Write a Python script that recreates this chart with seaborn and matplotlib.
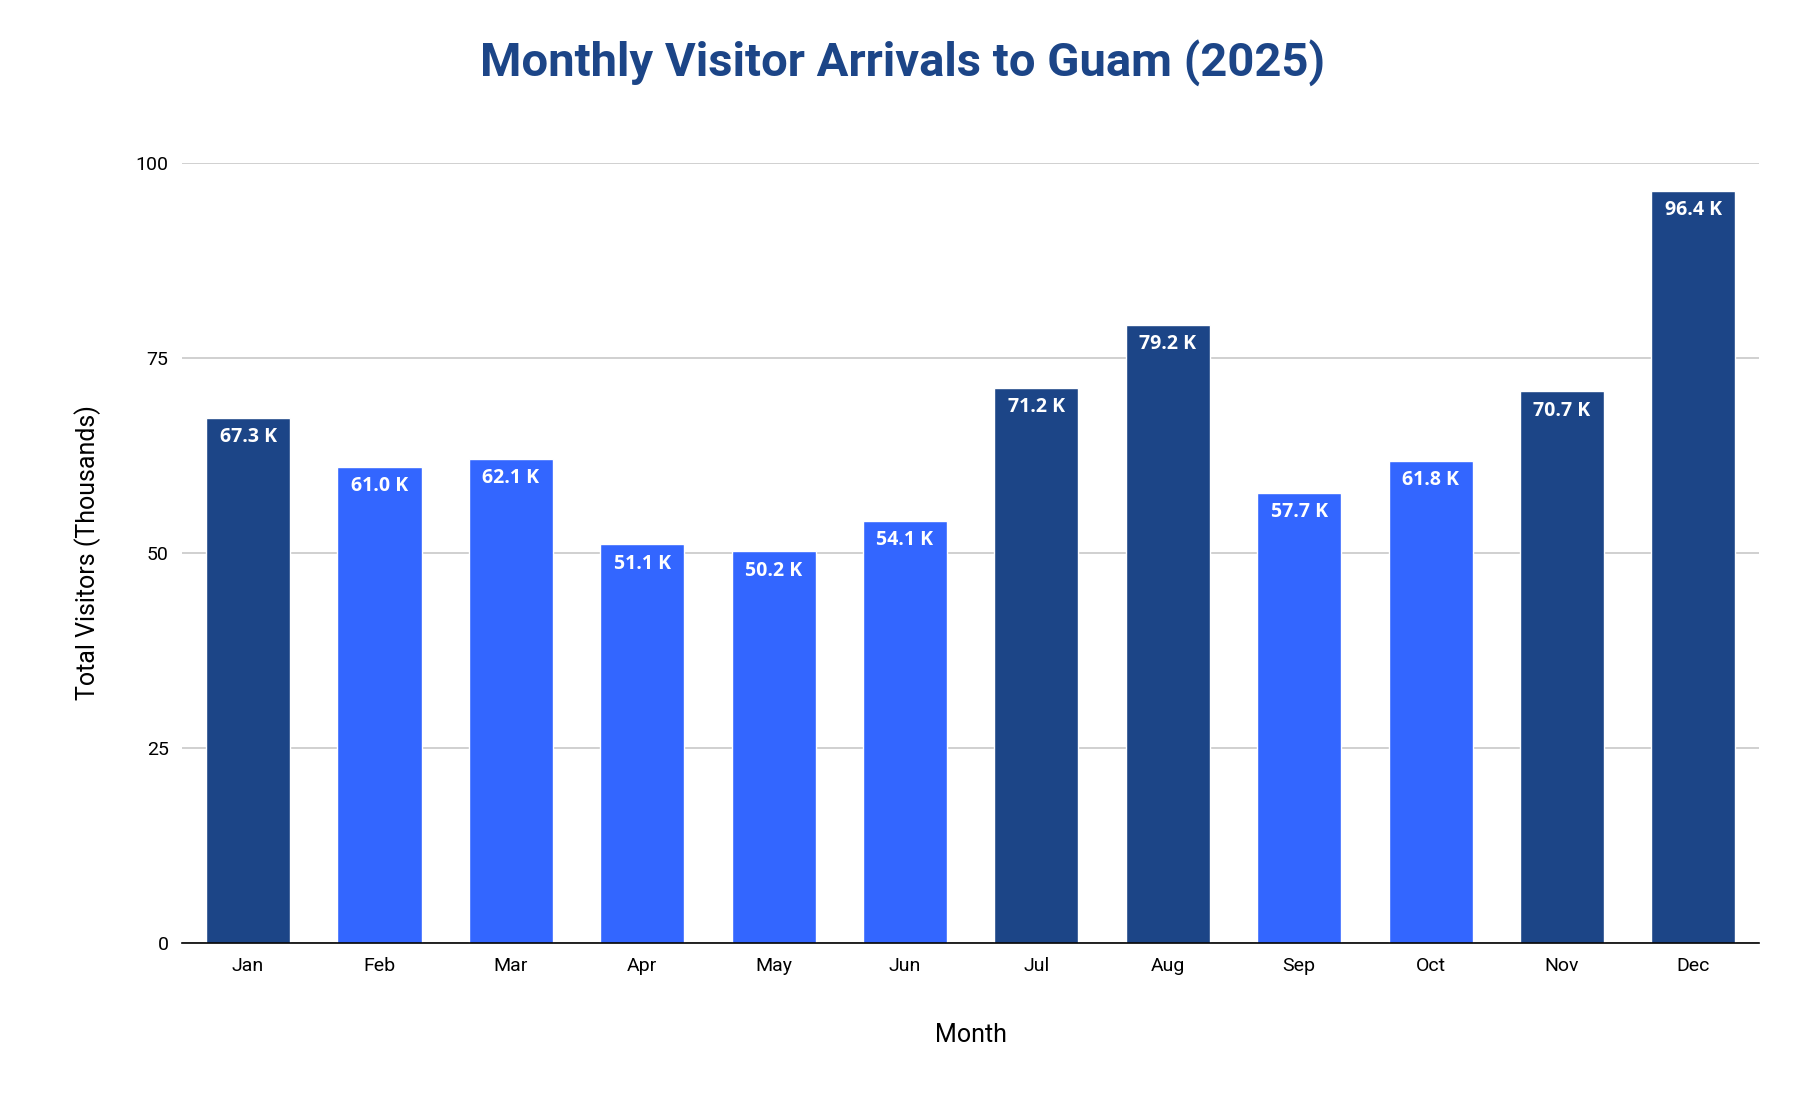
import matplotlib
matplotlib.use("Agg")
import matplotlib.pyplot as plt
import seaborn as sns
import pandas as pd

months = ["Jan","Feb","Mar","Apr","May","Jun","Jul","Aug","Sep","Oct","Nov","Dec"]
visitors = [67.3,61.0,62.1,51.1,50.2,54.1,71.2,79.2,57.7,61.8,70.7,96.4]
tiers = ["high","low","low","low","low","low","high","high","low","low","high","high"]

sns.set_theme(style="whitegrid")
plt.rcParams['font.family'] = ['Roboto', 'DejaVu Sans']
df = pd.DataFrame({"Month": months, "Visitors": visitors, "Tier": tiers})
palette = {"high": "#1c4587", "low": "#3366ff"}

fig = plt.figure(figsize=(18.06, 11.08), dpi=100)
ax = fig.add_axes([0.101, 0.149, 0.873, 0.704])
sns.barplot(data=df, x="Month", y="Visitors", hue="Tier", palette=palette,
            dodge=False, width=0.64, legend=False, ax=ax, saturation=1)
for c in ax.containers:
    for p in c.patches:
        h = p.get_height()
        if h != h or h == 0:
            continue
        ax.text(p.get_x() + p.get_width()/2, h - 1.2, f"{h:.1f} K", ha="center", va="top",
                color="white", fontsize=14, fontweight="bold", family=["Open Sans", "DejaVu Sans"])
ax.set_ylim(0, 100)
ax.set_yticks([0, 25, 50, 75, 100])
ax.grid(axis="x", visible=False)
ax.grid(axis="y", color="#c8c8c8", linewidth=1.2)
for s in ["top", "right", "left"]:
    ax.spines[s].set_visible(False)
ax.spines["bottom"].set_color("black")
ax.spines["bottom"].set_linewidth(1.2)
ax.tick_params(axis="both", labelsize=14, colors="black", length=0, pad=10)
ax.set_xlabel("Month", fontsize=18, labelpad=35, color="black")
ax.set_ylabel("Total Visitors (Thousands)", fontsize=18, labelpad=25, color="black")
fig.suptitle("Monthly Visitor Arrivals to Guam (2025)", fontsize=34, fontweight="bold",
             color="#1c4587", y=0.965)
fig.savefig("out.png", dpi=100)
